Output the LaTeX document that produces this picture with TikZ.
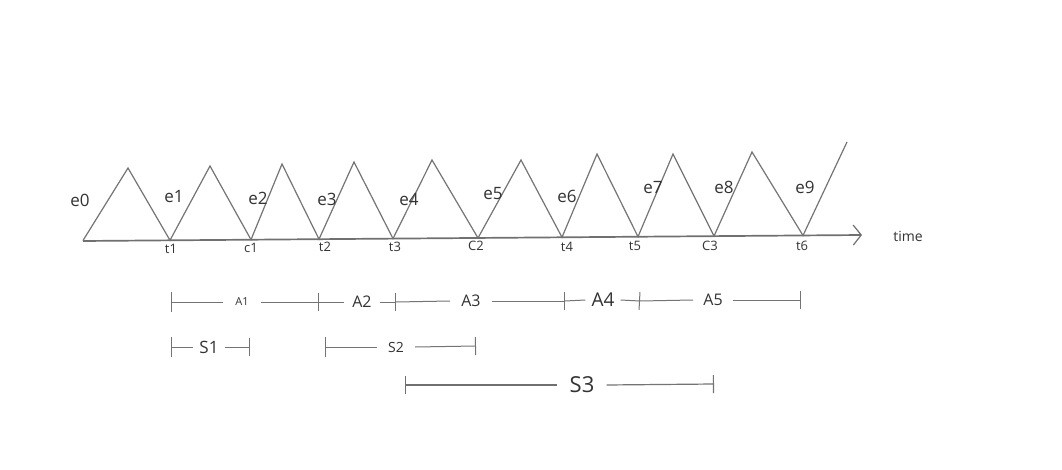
\documentclass[tikz,border=0pt]{standalone}
\usepackage{fontspec}
\setmainfont{Open Sans}
\usetikzlibrary{arrows.meta}
\definecolor{linegray}{HTML}{747474}
\definecolor{axisgray}{HTML}{707070}
\definecolor{textgray}{HTML}{333333}
\tikzset{
  zig/.style={draw=linegray, line width=1.2pt, line join=miter},
  axisline/.style={draw=axisgray, line width=1.7pt, -{Straight Barb[length=8pt,width=20pt,line width=1.2pt]}},
  elabel/.style={text=textgray, font=\fontsize{17}{17}\selectfont, inner sep=0pt},
  tlabel/.style={text=textgray, font=\fontsize{13}{13}\selectfont, inner sep=0pt},
  seglabel/.style={text=textgray, inner ysep=0pt},
  segline/.style={draw=linegray, line width=1pt},
  segbar/.style={segline, {Bar[width=20pt,line width=1pt]}-},
  segbarend/.style={segline, -{Bar[width=18pt,line width=1pt]}},
}
\begin{document}
\begin{tikzpicture}[x=1pt,y=-1pt]
\useasboundingbox[fill=white] (0,0) rectangle (1062,470);

% axis
\coordinate (ax0) at (83,241);
\coordinate (ax1) at (862,235);
\draw[axisline] (ax0) -- (ax1);
\node[text=textgray, font=\fontsize{14}{14}\selectfont, inner sep=0pt] (time) at (908,236) {time};

% zigzag vertices
\coordinate (v0) at (83,240.5);
\coordinate (p1) at (128,168);
\coordinate (v1) at (170,240.3);
\coordinate (p2) at (210,166);
\coordinate (v2) at (251,239.7);
\coordinate (p3) at (282,164);
\coordinate (v3) at (319,239.2);
\coordinate (p4) at (354,162);
\coordinate (v4) at (393,238.6);
\coordinate (p5) at (432,160);
\coordinate (v5) at (478,238);
\coordinate (p6) at (521,160);
\coordinate (v6) at (562,237.3);
\coordinate (p7) at (597,154);
\coordinate (v7) at (638,236.7);
\coordinate (p8) at (673,154);
\coordinate (v8) at (714,236.1);
\coordinate (p9) at (752,152);
\coordinate (v9) at (803,235.5);
\coordinate (pend) at (847,142);
\draw[zig] (v0) -- (p1) -- (v1) -- (p2) -- (v2) -- (p3) -- (v3) -- (p4) -- (v4)
  -- (p5) -- (v5) -- (p6) -- (v6) -- (p7) -- (v7) -- (p8) -- (v8) -- (p9) -- (v9) -- (pend);

% e labels
\node[elabel] (e0) at (80,200) {e0};
\node[elabel] (e1) at (174,197) {e1};
\node[elabel] (e2) at (258,198) {e2};
\node[elabel] (e3) at (327,199) {e3};
\node[elabel] (e4) at (409,199) {e4};
\node[elabel] (e5) at (493,194) {e5};
\node[elabel] (e6) at (567,196) {e6};
\node[elabel] (e7) at (653,188) {e7};
\node[elabel] (e8) at (724,187) {e8};
\node[elabel] (e9) at (805,187) {e9};

% t labels
\node[tlabel] (t1) at (171,249) {t1};
\node[tlabel] (c1) at (251,248) {c1};
\node[tlabel] (t2) at (325,247) {t2};
\node[tlabel] (t3) at (395,247) {t3};
\node[tlabel] (C2) at (476,246) {C2};
\node[tlabel] (t4) at (567,247) {t4};
\node[tlabel] (t5) at (635,246) {t5};
\node[tlabel] (C3) at (710,246) {C3};
\node[tlabel] (t6) at (802,246) {t6};

% A row
\coordinate (a0) at (171,302);
\coordinate (a1) at (319,302);
\coordinate (a2) at (396,302);
\coordinate (a3) at (565,301);
\coordinate (a4) at (640,301);
\coordinate (a5) at (801,300);
\node[seglabel, font=\fontsize{11}{11}\selectfont, inner xsep=12pt] (A1) at (242,302) {A1};
\node[seglabel, font=\fontsize{16}{16}\selectfont, inner xsep=8pt] (A2) at (362,302) {A2};
\node[seglabel, font=\fontsize{16}{16}\selectfont, inner xsep=11pt] (A3) at (471,301) {A3};
\node[seglabel, font=\fontsize{19}{19}\selectfont, inner xsep=6pt] (A4) at (603,300) {A4};
\node[seglabel, font=\fontsize{16}{16}\selectfont, inner xsep=10pt] (A5) at (713,300) {A5};
\draw[segbar] (a0) -- (A1.west);
\draw[segbarend] (A1.east) -- (a1);
\draw[segline] (a1) -- (A2.west);
\draw[segbarend] (A2.east) -- (a2);
\draw[segline] (a2) -- (A3.west);
\draw[segbarend] (A3.east) -- (a3);
\draw[segline] (a3) -- (A4.west);
\draw[segbarend] (A4.east) -- (a4);
\draw[segline] (a4) -- (A5.west);
\draw[segbarend] (A5.east) -- (a5);

% S row
\coordinate (s1a) at (171,347);
\coordinate (s1b) at (250,347);
\coordinate (s2a) at (325,347);
\coordinate (s2b) at (476,346);
\coordinate (s3a) at (405,385);
\coordinate (s3b) at (714,384);
\node[seglabel, font=\fontsize{17}{17}\selectfont, inner xsep=6pt] (S1) at (209,347) {S1};
\node[seglabel, font=\fontsize{14}{14}\selectfont, inner xsep=11pt] (S2) at (396,347) {S2};
\node[seglabel, font=\fontsize{22}{22}\selectfont, inner xsep=12pt] (S3) at (582,385) {S3};
\draw[segbar] (s1a) -- (S1.west);
\draw[segbarend] (S1.east) -- (s1b);
\draw[segbar] (s2a) -- (S2.west);
\draw[segbarend] (S2.east) -- (s2b);
\draw[segline, draw=axisgray, line width=1.6pt, {Bar[width=18pt,line width=1.1pt]}-] (s3a) -- (S3.west);
\draw[segline, line width=1.2pt, -{Bar[width=18pt,line width=1.1pt]}] (S3.east) -- (s3b);
\end{tikzpicture}
\end{document}
